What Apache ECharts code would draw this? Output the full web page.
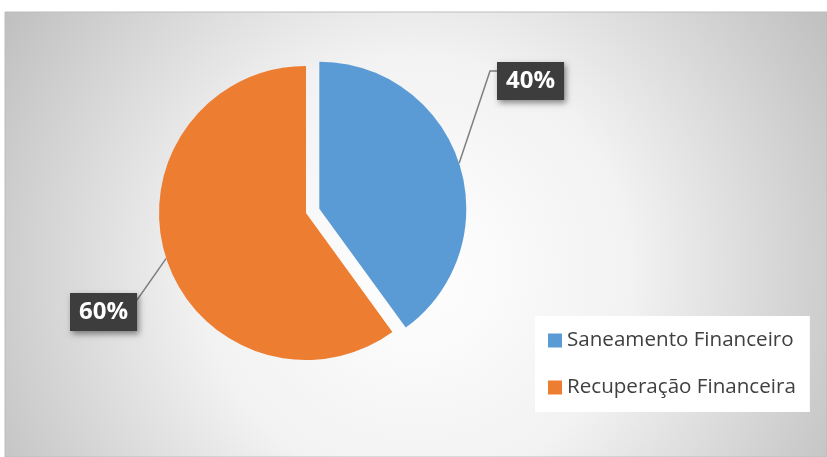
<!DOCTYPE html>
<html>
<head>
<meta charset="utf-8">
<script src="https://cdn.jsdelivr.net/npm/echarts@6/dist/echarts.min.js"></script>
<style>
  html, body { margin: 0; padding: 0; background: #fff; }
  #chart { width: 827px; height: 457px; }
</style>
</head>
<body>
<div id="chart"></div>
<script>
  // categories and shares (%)
  const categories = ['Saneamento Financeiro', 'Recuperação Financeira']
  const shares = [40, 60]
  const colors = ['#5B9BD5', '#ED7D31']

  // where each label box sits (top-left) and the elbow of its leader line
  const labelBoxes = [
    { x: 497, y: 62, elbow: [490, 71] },
    { x: 70, y: 293, elbow: [137, 300] }
  ]

  const chart = echarts.init(document.getElementById('chart'))

  const pieCenter = [306, 213]
  const explode = 14
  // blue slice is pulled out along its bisector (72deg from top, clockwise)
  const mid = (shares[0] / 2) / 100 * 2 * Math.PI
  const blueCenter = [pieCenter[0] + explode * Math.sin(mid), pieCenter[1] - explode * Math.cos(mid)]

  function makeSeries(idx, center) {
    return {
      type: 'pie',
      center: center,
      radius: [0, 147],
      startAngle: 90,
      clockwise: true,
      silent: true,
      emphasis: { disabled: true },
      label: {
        show: true,
        position: 'outside',
        formatter: '{d}%',
        color: '#ffffff',
        fontFamily: 'Open Sans',
        fontWeight: 'bold',
        fontSize: 24,
        lineHeight: 26,
        backgroundColor: '#3d3d3d',
        padding: [6, 9, 6, 9],
        shadowColor: 'rgba(0,0,0,0.45)',
        shadowBlur: 6,
        shadowOffsetX: 2,
        shadowOffsetY: 3
      },
      labelLine: {
        show: true,
        lineStyle: { color: '#7f7f7f', width: 1.5 }
      },
      labelLayout: function (params) {
        const box = labelBoxes[params.dataIndex]
        const pts = params.labelLinePoints
        const start = pts ? pts[0] : box.elbow
        const end = params.dataIndex === 0 ? [box.x, box.elbow[1]] : [box.x + params.labelRect.width, box.elbow[1]]
        return {
          x: box.x,
          y: box.y,
          align: 'left',
          verticalAlign: 'top',
          labelLinePoints: [start, box.elbow, end]
        }
      },
      data: categories.map((name, i) => ({
        name: name,
        value: shares[i],
        itemStyle: { color: i === idx ? colors[i] : 'rgba(0,0,0,0)' },
        label: { show: i === idx },
        labelLine: { show: i === idx }
      }))
    }
  }

  chart.setOption({
    animation: false,
    color: colors,
    graphic: [{
      type: 'rect',
      shape: { x: 5, y: 12, width: 822, height: 445 },
      style: {
        fill: {
          type: 'radial', x: 0.5, y: 0.58, r: 1.08,
          colorStops: [
            { offset: 0, color: '#ffffff' },
            { offset: 0.45, color: '#f2f2f2' },
            { offset: 1, color: '#c0c0c0' }
          ]
        },
        stroke: '#bdbdbd',
        lineWidth: 1
      },
      z: -10
    }],
    legend: {
      orient: 'vertical',
      left: 535,
      top: 316,
      padding: [14, 14, 14, 13],
      backgroundColor: '#ffffff',
      itemGap: 26,
      itemWidth: 14,
      itemHeight: 14,
      icon: 'rect',
      selectedMode: false,
      textStyle: {
        fontFamily: 'Open Sans',
        fontSize: 20.6,
        color: '#404040'
      },
      data: categories.map((name, i) => ({ name: name, itemStyle: { color: colors[i] } }))
    },
    series: [
      makeSeries(1, pieCenter),
      makeSeries(0, blueCenter)
    ]
  })
</script>
</body>
</html>
